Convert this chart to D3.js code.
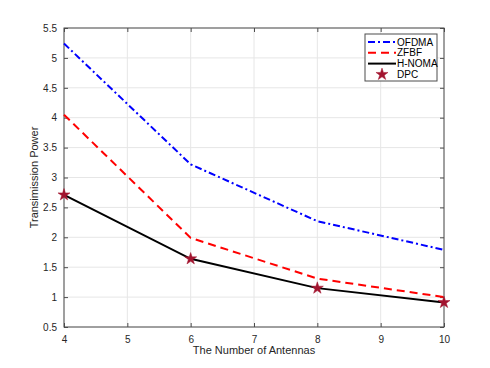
<!DOCTYPE html>
<html>
<head>
<meta charset="utf-8">
<script src="https://cdn.jsdelivr.net/npm/d3@7"></script>
<style>
  body { margin: 0; background: #fff; }
  text { font-family: "Liberation Sans", Arial, sans-serif; }
</style>
</head>
<body>
<svg id="chart" width="490" height="368"></svg>
<script>
// data
var antennas = [4, 6, 8, 10];
var ofdma = [5.24, 3.22, 2.27, 1.79];
var zfbf = [4.05, 1.99, 1.31, 1.0];
var hnoma = [2.71, 1.64, 1.15, 0.91];
var dpc = [2.71, 1.64, 1.15, 0.91];
var xTicks = [4, 5, 6, 7, 8, 9, 10];
var yTicks = [0.5, 1, 1.5, 2, 2.5, 3, 3.5, 4, 4.5, 5, 5.5];

var series = [
  { name: "OFDMA", values: ofdma, color: "#0000ff", dash: "7,3,2,3" },
  { name: "ZFBF", values: zfbf, color: "#ff0000", dash: "8,5" },
  { name: "H-NOMA", values: hnoma, color: "#000000", dash: null }
];

var margin = { left: 64, right: 46, top: 28, bottom: 41 };
var svg = d3.select("#chart");
var W = 490, H = 368;
var w = W - margin.left - margin.right,
    h = H - margin.top - margin.bottom;

var x = d3.scaleLinear().domain([4, 10]).range([0, w]);
var y = d3.scaleLinear().domain([0.5, 5.5]).range([h, 0]);

var g = svg.append("g").attr("transform", "translate(" + margin.left + "," + margin.top + ")");

// grid
g.append("g").selectAll("line").data(xTicks).enter().append("line")
  .attr("x1", d => x(d)).attr("x2", d => x(d))
  .attr("y1", 0).attr("y2", h)
  .attr("stroke", "#e6e6e6").attr("stroke-width", 1);
g.append("g").selectAll("line").data(yTicks).enter().append("line")
  .attr("y1", d => y(d)).attr("y2", d => y(d))
  .attr("x1", 0).attr("x2", w)
  .attr("stroke", "#e6e6e6").attr("stroke-width", 1);

// axes (ticks inward, mirrored on box)
var axisColor = "#4d4d4d";
function styleAxis(sel) {
  sel.select(".domain").remove();
  sel.selectAll(".tick line").attr("stroke", axisColor);
  sel.selectAll(".tick text").attr("fill", "#262626").style("font-size", "10px");
}
g.append("g").attr("transform", "translate(0," + h + ")")
  .call(d3.axisBottom(x).tickValues(xTicks).tickSize(-4).tickPadding(9).tickFormat(d3.format("d")))
  .call(styleAxis);
g.append("g")
  .call(d3.axisTop(x).tickValues(xTicks).tickSize(-4).tickFormat(""))
  .call(styleAxis);
g.append("g")
  .call(d3.axisLeft(y).tickValues(yTicks).tickSize(-4).tickPadding(7).tickFormat(d => d))
  .call(styleAxis);
g.append("g").attr("transform", "translate(" + w + ",0)")
  .call(d3.axisRight(y).tickValues(yTicks).tickSize(-4).tickFormat(""))
  .call(styleAxis);

g.append("rect").attr("width", w).attr("height", h)
  .attr("fill", "none").attr("stroke", axisColor).attr("stroke-width", 1);

// lines
var line = d3.line().x((d, i) => x(antennas[i])).y(d => y(d));
series.forEach(function(s) {
  g.append("path").datum(s.values)
    .attr("d", line)
    .attr("fill", "none")
    .attr("stroke", s.color)
    .attr("stroke-width", 2)
    .attr("stroke-dasharray", s.dash);
});

// DPC stars
var star = d3.symbol().type(d3.symbolStar).size(45);
g.append("g").selectAll("path").data(dpc).enter().append("path")
  .attr("d", star)
  .attr("transform", (d, i) => "translate(" + x(antennas[i]) + "," + y(d) + ")")
  .attr("fill", "#a2142f").attr("stroke", "#a2142f").attr("stroke-width", 0.5);

// axis labels
svg.append("text")
  .attr("x", margin.left + w / 2).attr("y", 354)
  .attr("text-anchor", "middle").attr("fill", "#262626")
  .style("font-size", "11px")
  .text("The Number of Antennas");
svg.append("text")
  .attr("transform", "translate(38," + (margin.top + h / 2) + ") rotate(-90)")
  .attr("text-anchor", "middle").attr("fill", "#262626")
  .style("font-size", "11px")
  .text("Transimission Power");

// legend
var lg = svg.append("g").attr("transform", "translate(365,34)");
lg.append("rect").attr("width", 72).attr("height", 47)
  .attr("fill", "#fff").attr("stroke", "#4d4d4d").attr("stroke-width", 1);
series.forEach(function(s, i) {
  var yy = 8 + i * 10.8;
  lg.append("line")
    .attr("x1", 3).attr("x2", 31).attr("y1", yy).attr("y2", yy)
    .attr("stroke", s.color).attr("stroke-width", 2)
    .attr("stroke-dasharray", s.dash);
  lg.append("text").attr("x", 32).attr("y", yy + 3.5)
    .attr("fill", "#000").style("font-size", "10px").text(s.name);
});
lg.append("path").attr("d", star)
  .attr("transform", "translate(17," + (8 + 3 * 10.8) + ")")
  .attr("fill", "#a2142f").attr("stroke", "#a2142f").attr("stroke-width", 0.5);
lg.append("text").attr("x", 32).attr("y", 8 + 3 * 10.8 + 3.5)
  .attr("fill", "#000").style("font-size", "10px").text("DPC");
</script>
</body>
</html>
